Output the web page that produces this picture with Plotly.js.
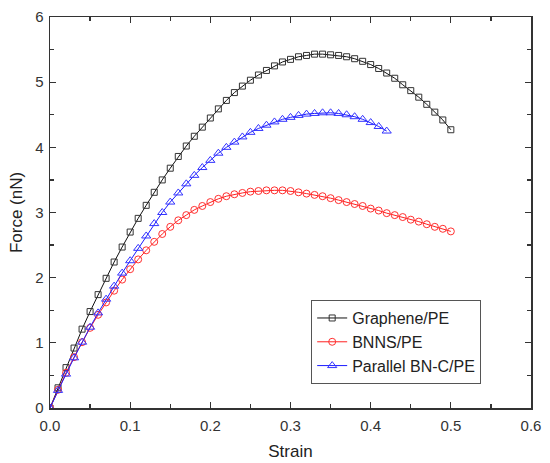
<!DOCTYPE html>
<html>
<head>
<meta charset="utf-8">
<script src="https://cdn.plot.ly/plotly-3.0.1.min.js"></script>
<style>html,body{margin:0;padding:0;background:#fff;}#chart{width:550px;height:463px;}</style>
</head>
<body>
<div id="chart"></div>
<script>
const strain = [0,0.01,0.02,0.03,0.04,0.05,0.06,0.07,0.08,0.09,0.10,0.11,0.12,0.13,0.14,0.15,0.16,0.17,0.18,0.19,0.20,0.21,0.22,0.23,0.24,0.25,0.26,0.27,0.28,0.29,0.30,0.31,0.32,0.33,0.34,0.35,0.36,0.37,0.38,0.39,0.40,0.41,0.42,0.43,0.44,0.45,0.46,0.47,0.48,0.49,0.50];
const graphene = [0,0.31,0.62,0.92,1.21,1.48,1.74,1.99,2.24,2.47,2.70,2.91,3.11,3.31,3.50,3.68,3.86,4.02,4.17,4.31,4.45,4.59,4.72,4.84,4.94,5.03,5.11,5.18,5.25,5.31,5.35,5.39,5.41,5.43,5.43,5.42,5.41,5.39,5.36,5.32,5.27,5.21,5.14,5.06,4.96,4.87,4.77,4.66,4.54,4.42,4.27];
const bnns = [0,0.28,0.54,0.78,1.01,1.23,1.43,1.62,1.80,1.97,2.13,2.28,2.42,2.55,2.67,2.78,2.88,2.96,3.04,3.10,3.16,3.21,3.25,3.28,3.30,3.32,3.33,3.34,3.34,3.34,3.33,3.31,3.29,3.27,3.25,3.22,3.19,3.16,3.13,3.10,3.06,3.03,2.99,2.96,2.93,2.89,2.86,2.82,2.78,2.75,2.71];
const parallel = [0,0.27,0.52,0.77,1.01,1.24,1.46,1.67,1.87,2.07,2.26,2.45,2.64,2.83,3.00,3.16,3.30,3.44,3.57,3.69,3.80,3.91,4.00,4.08,4.16,4.23,4.29,4.34,4.39,4.43,4.46,4.49,4.51,4.52,4.53,4.53,4.52,4.50,4.47,4.43,4.38,4.32,4.25];
const names = ['Graphene/PE','BNNS/PE','Parallel BN-C/PE'];
const xTickVals = [0,0.1,0.2,0.3,0.4,0.5,0.6];
const xTickText = ['0.0','0.1','0.2','0.3','0.4','0.5','0.6'];
const yTickVals = [0,1,2,3,4,5,6];

const FONT = 'Liberation Sans, Arial, sans-serif';

const traces = [
  {x: strain, y: graphene, name: names[0], mode:'lines+markers',
   line:{color:'#111', width:1}, marker:{symbol:'square-open', size:6, color:'#333', line:{width:1}}},
  {x: strain, y: bnns, name: names[1], mode:'lines+markers',
   line:{color:'#ff2020', width:1}, marker:{symbol:'circle-open', size:7, color:'#ff3030', line:{width:1}}},
  {x: strain.slice(0, parallel.length), y: parallel, name: names[2], mode:'lines+markers',
   line:{color:'#1a1aff', width:1}, marker:{symbol:'triangle-up-open', size:8, color:'#3333ff', line:{width:1}}}
];

const axisCommon = {
  showgrid:false, zeroline:false, showline:true, linecolor:'#333', linewidth:1.5,
  mirror:'ticks', ticks:'inside', ticklen:6, tickwidth:1.2, tickcolor:'#333',
  tickfont:{family:FONT, size:15, color:'#333'}
};

const layout = {
  width:550, height:463,
  margin:{l:50, r:19, t:17, b:55},
  paper_bgcolor:'#fff', plot_bgcolor:'#fff',
  showlegend:true,
  legend:{x:0.543, y:0.276, xanchor:'left', yanchor:'top',
    bgcolor:'#fff', bordercolor:'#555', borderwidth:1,
    font:{family:FONT, size:16, color:'#222'},
    tracegroupgap:0},
  xaxis: Object.assign({}, axisCommon, {
    range:[0,0.6], tickvals:xTickVals, ticktext:xTickText, ticklabelstandoff:3,
    minor:{dtick:0.05, ticks:'inside', ticklen:4, tickcolor:'#333', tickwidth:1.2},
    title:{text:'Strain', font:{family:FONT, size:17, color:'#222'}, standoff:12}
  }),
  yaxis: Object.assign({}, axisCommon, {
    range:[0,6], tickvals:yTickVals, ticklabelstandoff:2,
    minor:{dtick:0.5, ticks:'inside', ticklen:4, tickcolor:'#333', tickwidth:1.2},
    title:{text:'Force (nN)', font:{family:FONT, size:17, color:'#222'}, standoff:8}
  })
};

Plotly.newPlot('chart', traces, layout, {displayModeBar:false, staticPlot:true});
</script>
</body>
</html>
